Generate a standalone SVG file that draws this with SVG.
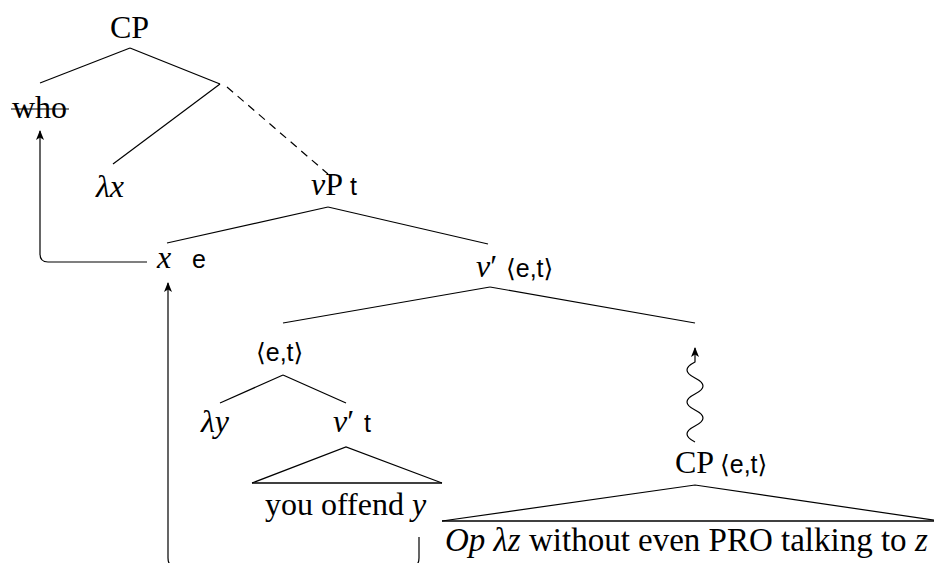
<svg xmlns="http://www.w3.org/2000/svg" width="934" height="563" viewBox="0 0 934 563">
<style>
.l{stroke:#000;stroke-width:1.2;fill:none}
.b{stroke:#000;stroke-width:1.6;fill:none}
.t{font-family:"Liberation Serif","Times New Roman",serif;font-size:32px;fill:#000}
.i{font-style:italic}
.s{font-family:"Liberation Sans","DejaVu Sans",sans-serif;font-size:25px;fill:#000}
</style>
<defs>
<marker id="ah" viewBox="0 0 10 10" refX="9" refY="5" markerWidth="10" markerHeight="10" markerUnits="userSpaceOnUse" orient="auto">
<path d="M0,1 L10,5 L0,9 L2.5,5 Z" fill="#000"/>
</marker>
</defs>
<rect width="934" height="563" fill="#fff"/>
<g id="connectors">
<line class="l" x1="130" y1="48" x2="40" y2="83"/>
<line class="l" x1="130" y1="48" x2="220" y2="84"/>
<line class="l" x1="220" y1="84" x2="113" y2="164"/>
<line class="l" x1="227" y1="87" x2="328" y2="174" stroke-dasharray="8,6"/>
<line class="l" x1="328" y1="207" x2="167" y2="243"/>
<line class="l" x1="328" y1="207" x2="488" y2="244"/>
<line class="l" x1="490" y1="287" x2="283" y2="323"/>
<line class="l" x1="490" y1="287" x2="695" y2="323"/>
<line class="l" x1="283" y1="375" x2="220" y2="403"/>
<line class="l" x1="283" y1="375" x2="346" y2="403"/>
<path class="l" d="M252,483 L346,447 L442,483"/>
<line class="b" x1="252" y1="483" x2="442" y2="483"/>
<path class="l" d="M442,521 L695,485 L940,521"/>
<line class="b" x1="442" y1="521" x2="940" y2="521"/>
<path class="l" d="M695,442 q -16,-8 0,-16 t 0,-16 t 0,-16 t 0,-16 t 0,-16 L695,348" marker-end="url(#ah)"/>
<path class="l" d="M147,262 L48,262 Q40,262 40,254 L40,131" marker-end="url(#ah)"/>
<path class="l" d="M419,537 L419,558 Q419,567 410,567 L177,567 Q168,567 168,558 L168,283" marker-end="url(#ah)"/>
</g>
<g id="n-cp-top"><text class="t" x="110" y="38">CP</text></g>
<g id="n-who"><text class="t" x="12" y="118">who</text><line class="l" x1="11" y1="109" x2="69" y2="109"/></g>
<g id="n-lx"><text class="t i" x="96" y="197">λx</text></g>
<g id="n-vp"><text class="t" x="311" y="195"><tspan class="i">v</tspan>P</text><text class="s" x="350" y="195">t</text></g>
<g id="n-x"><text class="t i" x="157" y="268">x</text><text class="s" x="192" y="268">e</text></g>
<g id="n-v1"><text class="t" x="476" y="277"><tspan class="i">v</tspan>′</text><text class="s" x="506" y="277">⟨e,t⟩</text></g>
<g id="n-et"><text class="s" x="256" y="361">⟨e,t⟩</text></g>
<g id="n-ly"><text class="t i" x="201" y="432">λy</text></g>
<g id="n-v2"><text class="t" x="333" y="432"><tspan class="i">v</tspan>′</text><text class="s" x="364" y="432">t</text></g>
<g id="n-offend"><text class="t" x="265" y="515">you offend <tspan class="i">y</tspan></text></g>
<g id="n-cp2"><text class="t" x="675" y="473">CP</text><text class="s" x="720" y="473">⟨e,t⟩</text></g>
<g id="n-op"><text class="t" x="445" y="551" style="font-size:33px"><tspan class="i">Op λz</tspan> without even PRO talking to <tspan class="i">z</tspan></text></g>
</svg>
